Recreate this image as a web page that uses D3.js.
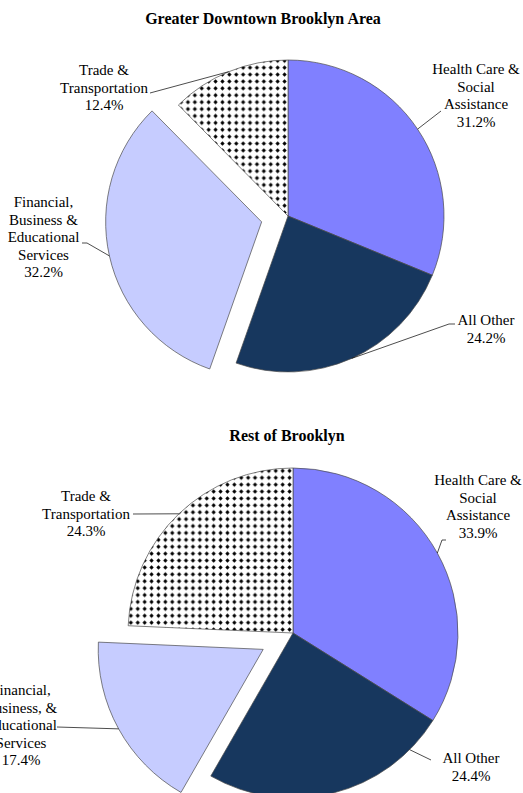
<!DOCTYPE html>
<html>
<head>
<meta charset="utf-8">
<script src="https://cdn.jsdelivr.net/npm/d3@7"></script>
<style>
  body { margin: 0; background: #fff; }
  text { font-family: "Liberation Serif", "Times New Roman", serif; fill: #000; }
</style>
</head>
<body>
<div id="wrapper"></div>
<script>
// DATA (clockwise from 12 o'clock)
const categories = ['Health Care & Social Assistance', 'All Other', 'Financial, Business & Educational Services', 'Trade & Transportation']
const downtownShares = [31.2, 24.2, 32.2, 12.4]
const restShares = [33.9, 24.4, 17.4, 24.3]
const downtownLabels = [['Health Care &', 'Social', 'Assistance'], ['All Other'], ['Financial,', 'Business &', 'Educational', 'Services'], ['Trade &', 'Transportation']]
const restLabels = [['Health Care &', 'Social', 'Assistance'], ['All Other'], ['Financial,', 'Business, &', 'Educational', 'Services'], ['Trade &', 'Transportation']]
const titles = ['Greater Downtown Brooklyn Area', 'Rest of Brooklyn']

const colors = ['#8080ff', '#17375e', '#c6ccff', 'url(#dots)']

// WRAPPER
const dimensions = { width: 523, height: 793 }

const wrapper = d3.select('#wrapper')
  .append('svg')
  .attr('width', dimensions.width)
  .attr('height', dimensions.height)

// dotted pattern for trade slice
const pattern = wrapper.append('defs')
  .append('pattern')
  .attr('id', 'dots')
  .attr('patternUnits', 'userSpaceOnUse')
  .attr('width', 6.9)
  .attr('height', 6.9)
pattern.append('rect').attr('width', 6.9).attr('height', 6.9).attr('fill', '#fff')
pattern.append('path')
  .attr('d', 'M3.45,1.3 L5.6,3.45 L3.45,5.6 L1.3,3.45 Z')
  .attr('fill', '#000')

// layout for each pie (positions only)
const charts = [
  {
    title: titles[0], titleX: 263, titleY: 24,
    values: downtownShares, labels: downtownLabels,
    cx: 288, cy: 216, r: 156, explode: [0, 0, 27, 0],
    labelPos: [
      { x: 476, y: 74, lead: [[441, 111]] },
      { x: 486, y: 325, lead: [[455, 324], [449, 324]] },
      { x: 43.5, y: 207, lead: [[82, 243], [87, 243]] },
      { x: 104, y: 75, lead: [[150, 93]] }
    ]
  },
  {
    title: titles[1], titleX: 287, titleY: 441,
    values: restShares, labels: restLabels,
    cx: 293, cy: 633, r: 165, explode: [0, 0, 34, 0],
    labelPos: [
      { x: 478, y: 485, lead: [[446, 540], [442, 540]] },
      { x: 471, y: 763, lead: [[431, 760]], angle: 135 },
      { x: 21, y: 695, lead: [[57, 727]] },
      { x: 86, y: 501, lead: [[133, 514]] }
    ]
  }
]

const pie = d3.pie().sort(null).value(d => d)
const pct = d => d3.format('.1f')(d) + '%'
const lineHeight = 17.5

charts.forEach(chart => {
  const arcs = pie(chart.values)
  const arc = d3.arc().innerRadius(0).outerRadius(chart.r)

  // offsets for exploded slices
  const offsets = arcs.map((a, i) => {
    const mid = (a.startAngle + a.endAngle) / 2
    return [chart.explode[i] * Math.sin(mid), -chart.explode[i] * Math.cos(mid)]
  })

  const g = wrapper.append('g')
    .attr('transform', `translate(${chart.cx},${chart.cy})`)

  g.selectAll('path.slice')
    .data(arcs)
    .join('path')
    .attr('class', 'slice')
    .attr('d', arc)
    .attr('transform', (d, i) => `translate(${offsets[i][0]},${offsets[i][1]})`)
    .attr('fill', (d, i) => colors[i])
    .attr('stroke', '#4a4a4a')
    .attr('stroke-width', 0.7)

  // leader lines
  arcs.forEach((a, i) => {
    const lp = chart.labelPos[i]
    const ang = lp.angle != null ? lp.angle * Math.PI / 180 : (a.startAngle + a.endAngle) / 2
    const edge = [
      chart.cx + offsets[i][0] + chart.r * Math.sin(ang),
      chart.cy + offsets[i][1] - chart.r * Math.cos(ang)
    ]
    wrapper.append('path')
      .attr('d', d3.line()([...lp.lead, edge]))
      .attr('fill', 'none')
      .attr('stroke', '#000')
      .attr('stroke-width', 0.7)

    const lines = [...chart.labels[i], pct(chart.values[i])]
    const t = wrapper.append('text')
      .attr('text-anchor', 'middle')
      .style('font-size', '15px')
    lines.forEach((l, j) => {
      t.append('tspan')
        .attr('x', lp.x)
        .attr('y', lp.y + j * lineHeight)
        .text(l)
    })
  })

  // title
  wrapper.append('text')
    .attr('x', chart.titleX)
    .attr('y', chart.titleY)
    .attr('text-anchor', 'middle')
    .style('font-size', '16px')
    .style('font-weight', 'bold')
    .text(chart.title)
})
</script>
</body>
</html>
